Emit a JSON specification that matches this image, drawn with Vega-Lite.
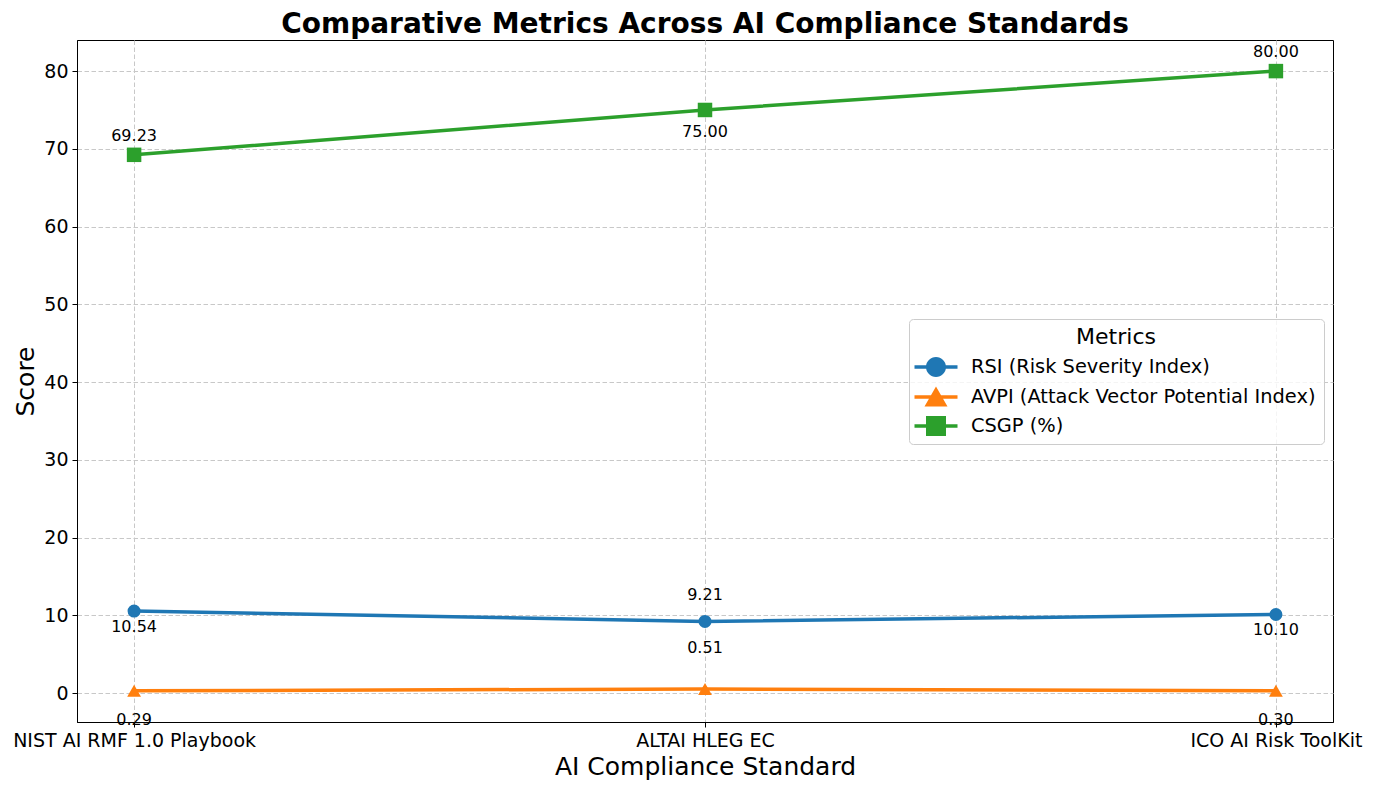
{
  "$schema": "https://vega.github.io/schema/vega-lite/v6.json",
  "width": 1256,
  "height": 682,
  "autosize": {"type": "none"},
  "padding": {"left": 77, "top": 40, "right": 41, "bottom": 68},
  "background": "white",
  "config": {
    "font": "DejaVu Sans",
    "view": {"stroke": "black", "strokeWidth": 1},
    "axis": {
      "labelFont": "DejaVu Sans",
      "titleFont": "DejaVu Sans",
      "labelColor": "black",
      "titleColor": "black",
      "labelFontSize": 19,
      "titleFontSize": 25,
      "titleFontWeight": "normal",
      "domainColor": "black",
      "tickColor": "black",
      "tickSize": 5,
      "labelPadding": 4,
      "labelLimit": 0,
      "gridColor": "#c8c8c8",
      "gridDash": [4.5, 2.5],
      "gridWidth": 1
    }
  },
  "title": {
    "text": "Comparative Metrics Across AI Compliance Standards",
    "font": "DejaVu Sans",
    "fontSize": 28,
    "fontWeight": "bold",
    "color": "black",
    "anchor": "middle",
    "offset": 1
  },
  "data": {
    "values": [
      {"standard": "NIST AI RMF 1.0 Playbook", "metric": "RSI (Risk Severity Index)", "value": 10.54},
      {"standard": "ALTAI HLEG EC", "metric": "RSI (Risk Severity Index)", "value": 9.21},
      {"standard": "ICO AI Risk ToolKit", "metric": "RSI (Risk Severity Index)", "value": 10.10},
      {"standard": "NIST AI RMF 1.0 Playbook", "metric": "AVPI (Attack Vector Potential Index)", "value": 0.29},
      {"standard": "ALTAI HLEG EC", "metric": "AVPI (Attack Vector Potential Index)", "value": 0.51},
      {"standard": "ICO AI Risk ToolKit", "metric": "AVPI (Attack Vector Potential Index)", "value": 0.30},
      {"standard": "NIST AI RMF 1.0 Playbook", "metric": "CSGP (%)", "value": 69.23},
      {"standard": "ALTAI HLEG EC", "metric": "CSGP (%)", "value": 75.00},
      {"standard": "ICO AI Risk ToolKit", "metric": "CSGP (%)", "value": 80.00}
    ]
  },
  "encoding": {
    "x": {
      "field": "standard",
      "type": "nominal",
      "sort": null,
      "scale": {"type": "point", "padding": 0.1},
      "axis": {"title": "AI Compliance Standard", "labelAngle": 0, "grid": true, "titlePadding": 4}
    },
    "y": {
      "field": "value",
      "type": "quantitative",
      "scale": {"domain": [-3.73, 84], "nice": false, "zero": false},
      "axis": {"title": "Score", "values": [0, 10, 20, 30, 40, 50, 60, 70, 80], "grid": true, "titlePadding": 5}
    }
  },
  "layer": [
    {
      "mark": {"type": "line", "strokeWidth": 3.5},
      "encoding": {
        "color": {
          "field": "metric",
          "type": "nominal",
          "sort": null,
          "scale": {
            "domain": ["RSI (Risk Severity Index)", "AVPI (Attack Vector Potential Index)", "CSGP (%)"],
            "range": ["#1f77b4", "#ff7f0e", "#2ca02c"]
          },
          "legend": {
            "title": "Metrics",
            "orient": "none",
            "legendX": 832,
            "legendY": 279,
            "titleFont": "DejaVu Sans",
            "titleFontSize": 22,
            "titleFontWeight": "normal",
            "titleColor": "black",
            "titleAnchor": "middle",
            "titlePadding": 8,
            "labelFont": "DejaVu Sans",
            "labelFontSize": 19.4,
            "labelColor": "black",
            "labelLimit": 0,
            "labelOffset": 25,
            "symbolOffset": 9,
            "symbolSize": 400,
            "symbolType": "M-2.15,-0.17L2.15,-0.17L2.15,0.17L-2.15,0.17Z",
            "rowPadding": 9,
            "padding": 8,
            "strokeColor": "#cccccc",
            "fillColor": "rgba(255,255,255,0.8)",
            "cornerRadius": 4,
            "encode": {
              "symbols": {
                "update": {
                  "shape": {"signal": "datum.value === 'RSI (Risk Severity Index)' ? 'M-2.15,-0.17L2.15,-0.17L2.15,0.17L-2.15,0.17Z M-1,0A1,1 0 1,1 1,0A1,1 0 1,1 -1,0Z' : datum.value === 'CSGP (%)' ? 'M-2.15,-0.17L2.15,-0.17L2.15,0.17L-2.15,0.17Z M-1,-1L1,-1L1,1L-1,1Z' : 'M-2.15,-0.17L2.15,-0.17L2.15,0.17L-2.15,0.17Z M0,-1.05L1.15,0.95L-1.15,0.95Z'"},
                  "fill": {"signal": "scale('color', datum.value)"},
                  "stroke": {"value": "transparent"},
                  "strokeWidth": {"value": 0},
                  "opacity": {"value": 1}
                }
              }
            }
          }
        }
      }
    },
    {
      "transform": [{"filter": "datum.metric === 'RSI (Risk Severity Index)'"}],
      "mark": {"type": "point", "filled": true, "opacity": 1, "size": 170, "shape": "circle"},
      "encoding": {"color": {"field": "metric", "type": "nominal", "sort": null}}
    },
    {
      "transform": [{"filter": "datum.metric === 'AVPI (Attack Vector Potential Index)'"}],
      "mark": {"type": "point", "filled": true, "opacity": 1, "size": 190, "shape": "triangle-up"},
      "encoding": {"color": {"field": "metric", "type": "nominal", "sort": null}}
    },
    {
      "transform": [{"filter": "datum.metric === 'CSGP (%)'"}],
      "mark": {"type": "point", "filled": true, "opacity": 1, "size": 210, "shape": "square"},
      "encoding": {"color": {"field": "metric", "type": "nominal", "sort": null}}
    },
    {
      "transform": [{"filter": "datum.metric === 'CSGP (%)' && datum.standard !== 'ALTAI HLEG EC'"}],
      "mark": {"type": "text", "fontSize": 16, "color": "black", "dy": -19, "baseline": "middle"},
      "encoding": {"text": {"field": "value", "type": "quantitative", "format": ".2f"}}
    },
    {
      "transform": [{"filter": "datum.metric === 'CSGP (%)' && datum.standard === 'ALTAI HLEG EC'"}],
      "mark": {"type": "text", "fontSize": 16, "color": "black", "dy": 22, "baseline": "middle"},
      "encoding": {"text": {"field": "value", "type": "quantitative", "format": ".2f"}}
    },
    {
      "transform": [{"filter": "datum.metric === 'RSI (Risk Severity Index)' && datum.standard !== 'ALTAI HLEG EC'"}],
      "mark": {"type": "text", "fontSize": 16, "color": "black", "dy": 16, "baseline": "middle"},
      "encoding": {"text": {"field": "value", "type": "quantitative", "format": ".2f"}}
    },
    {
      "transform": [{"filter": "datum.metric === 'RSI (Risk Severity Index)' && datum.standard === 'ALTAI HLEG EC'"}],
      "mark": {"type": "text", "fontSize": 16, "color": "black", "dy": -26, "baseline": "middle"},
      "encoding": {"text": {"field": "value", "type": "quantitative", "format": ".2f"}}
    },
    {
      "transform": [{"filter": "datum.metric === 'AVPI (Attack Vector Potential Index)' && datum.standard !== 'ALTAI HLEG EC'"}],
      "mark": {"type": "text", "fontSize": 16, "color": "black", "dy": 29, "baseline": "middle"},
      "encoding": {"text": {"field": "value", "type": "quantitative", "format": ".2f"}}
    },
    {
      "transform": [{"filter": "datum.metric === 'AVPI (Attack Vector Potential Index)' && datum.standard === 'ALTAI HLEG EC'"}],
      "mark": {"type": "text", "fontSize": 16, "color": "black", "dy": -41, "baseline": "middle"},
      "encoding": {"text": {"field": "value", "type": "quantitative", "format": ".2f"}}
    }
  ]
}
